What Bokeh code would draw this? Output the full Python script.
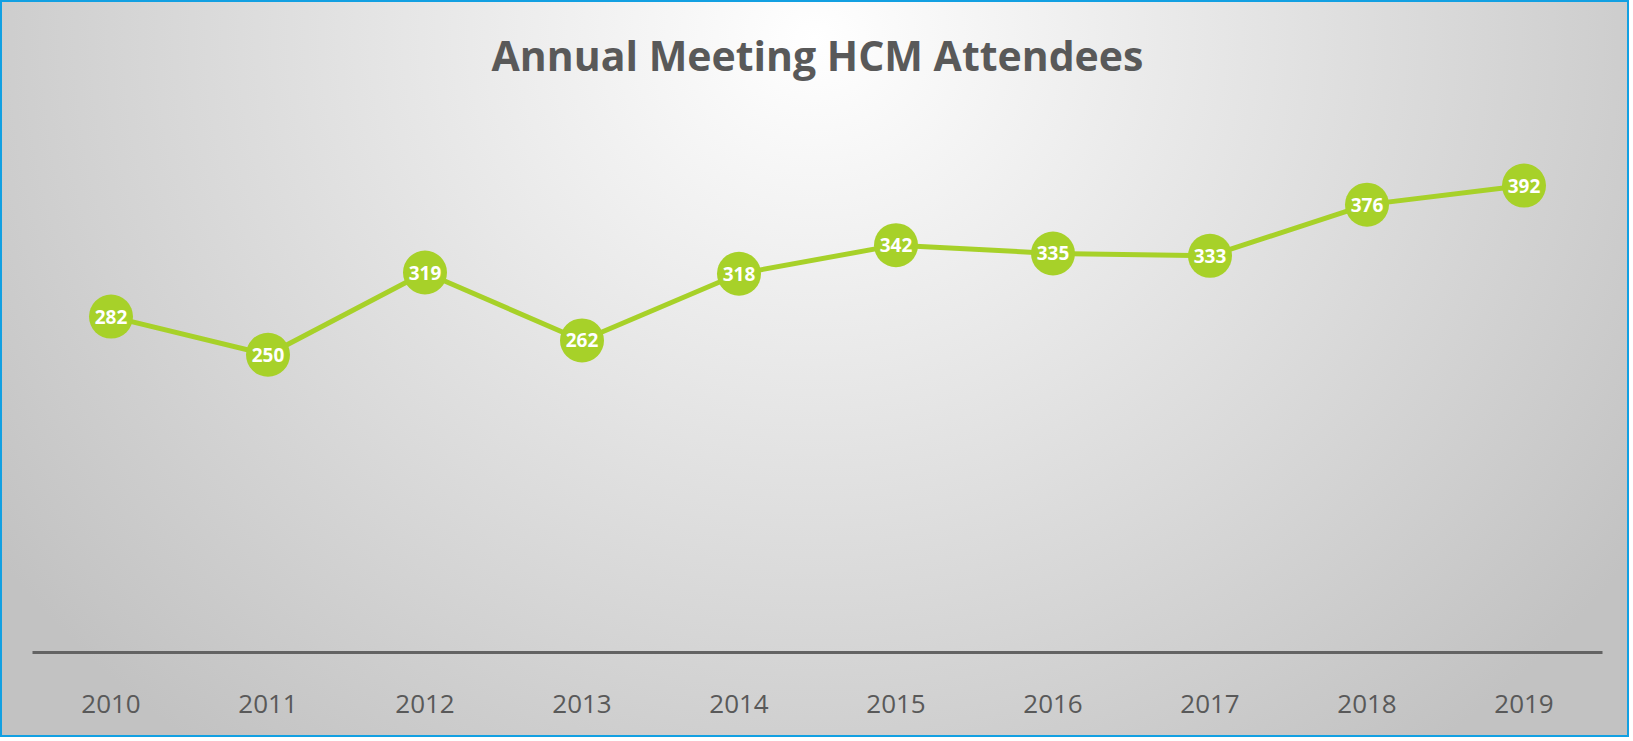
from bokeh.plotting import figure
from bokeh.models import Range1d, ColumnDataSource, FactorRange, Label
from bokeh.core.properties import value
from bokeh.embed import file_html
from bokeh.resources import INLINE

title = "Annual Meeting HCM Attendees"
years = ["2010", "2011", "2012", "2013", "2014", "2015", "2016", "2017", "2018", "2019"]
attendees = [282, 250, 319, 262, 318, 342, 335, 333, 376, 392]

src = ColumnDataSource(dict(x=years, y=attendees, lbl=[str(v) for v in attendees]))

W, H = 1629, 737
BOTTOM = 87
PX_PER_UNIT = 536 / 450.0          # axis scale: 0..450 spans 536 px
Y_TOP = (H - BOTTOM) / PX_PER_UNIT  # frame extended to the top to host the title

p = figure(width=W, height=H, output_backend="svg", toolbar_location=None,
           x_range=FactorRange(*years, range_padding=0), y_range=Range1d(0, Y_TOP),
           min_border_left=30, min_border_right=29, min_border_top=0, min_border_bottom=BOTTOM)
p.styles = {
    "border": "2px solid #12A0E2",
    "background": "radial-gradient(ellipse 1000px 900px at 50% 5%, #ffffff 0%, #c2c2c2 100%)",
}
p.background_fill_alpha = 0
p.border_fill_alpha = 0
p.outline_line_color = None
p.xgrid.visible = False
p.ygrid.visible = False
p.yaxis.visible = False

p.add_layout(Label(x=len(years) / 2, y=Y_TOP - 52 / PX_PER_UNIT, text=title,
                   text_align="center", text_baseline="middle",
                   text_font="Open Sans", text_font_style="bold", text_font_size="41px",
                   text_color="#595959"))

ax = p.xaxis[0]
ax.axis_line_color = "#636363"
ax.axis_line_width = 3
ax.major_tick_line_color = None
ax.minor_tick_line_color = None
ax.major_tick_out = 0
ax.major_tick_in = 0
ax.major_label_standoff = 42
ax.major_label_text_font = "Open Sans"
ax.major_label_text_font_size = "26px"
ax.major_label_text_color = "#595959"

p.line("x", "y", source=src, line_color="#A7D129", line_width=5)
p.scatter("x", "y", source=src, size=44, fill_color="#A7D129", line_color=None)
p.text("x", "y", text="lbl", source=src, text_font=value("Open Sans"), text_font_style="bold",
       text_font_size="19px", text_color="white", text_align="center", text_baseline="middle")

open("out.html", "w").write(file_html(p, INLINE))
